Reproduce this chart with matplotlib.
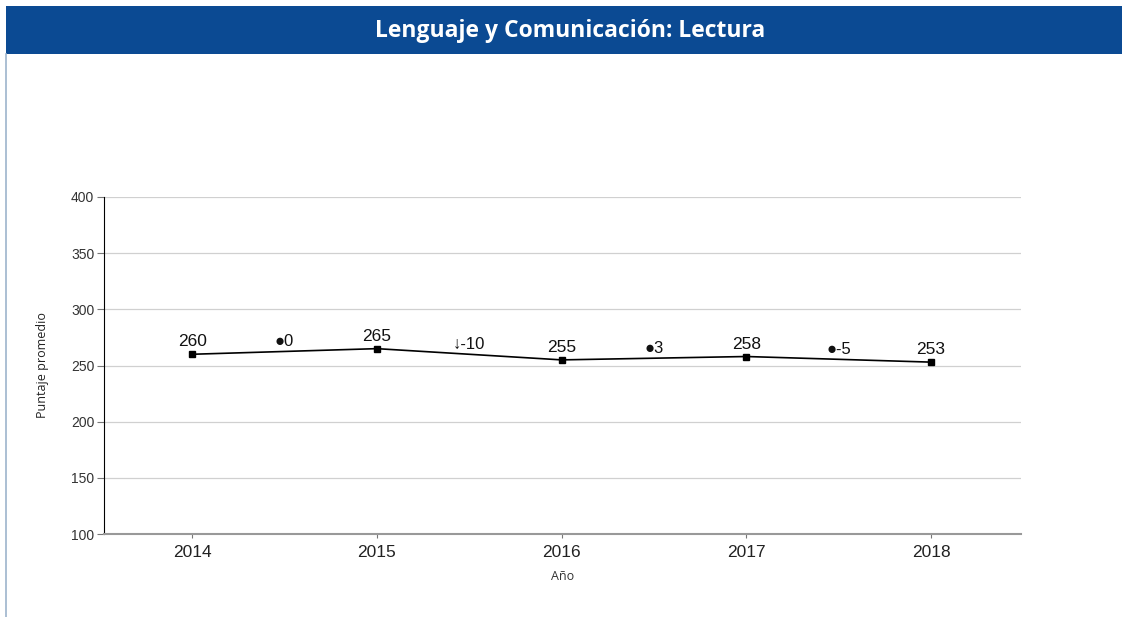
import matplotlib
matplotlib.use("Agg")
import matplotlib.pyplot as plt
from matplotlib.patches import Rectangle
from matplotlib.lines import Line2D

years = ["2014", "2015", "2016", "2017", "2018"]
scores = [260, 265, 255, 258, 253]
diff_labels = ["\u25cf0", "\u2193-10", "\u25cf3", "\u25cf-5"]
yticks = [100, 150, 200, 250, 300, 350, 400]

W, H = 1122, 617
fig = plt.figure(figsize=(W / 100, H / 100), dpi=100)
fig.patch.set_facecolor("white")

# header bar
fig.patches.append(Rectangle((6 / W, 1 - 54 / H), 1 - 6 / W, 48 / H,
                             transform=fig.transFigure, facecolor="#0B4A93",
                             edgecolor="none", zorder=0))
fig.text(570 / W, 1 - 31 / H, "Lenguaje y Comunicación: Lectura", color="white",
         fontsize=16.5, fontweight="bold", family="Open Sans", ha="center", va="center")
# left border line
fig.lines.append(Line2D([5.5 / W, 5.5 / W], [0, 1 - 54 / H], transform=fig.transFigure,
                        color="#9DB4CC", lw=1.2))

ax = fig.add_axes([104 / W, 1 - 534 / H, (1021 - 104) / W, (534 - 197) / H])
x = list(range(len(years)))
ax.plot(x, scores, color="black", lw=1.2, marker="s", markersize=5, zorder=3)
ax.set_xlim(-0.477, len(years) - 1 + 0.487)
ax.set_ylim(100, 400)
ax.set_yticks(yticks)
ax.set_yticklabels([str(v) for v in yticks], family="Liberation Sans", fontsize=10, color="#333333")
ax.set_xticks(x)
ax.set_xticklabels(years, family="Liberation Sans", fontsize=12.5, color="#222222")
ax.grid(axis="y", color="#d0d0d0", lw=0.9)
ax.set_axisbelow(True)
for s in ["top", "right"]:
    ax.spines[s].set_visible(False)
ax.spines["left"].set_color("black")
ax.spines["bottom"].set_color("#999999")
ax.spines["bottom"].set_linewidth(1.5)
ax.tick_params(axis="y", length=5, color="#777777", pad=2)
ax.tick_params(axis="x", length=3, color="#777777", pad=5)

for xi, v in zip(x, scores):
    ax.annotate(str(v), (xi, v), xytext=(0, 3.5), textcoords="offset points",
                ha="center", va="bottom", fontsize=12.5, family="Liberation Sans", color="#111111")
for i, lab in enumerate(diff_labels):
    xm = (x[i] + x[i + 1]) / 2
    ym = (scores[i] + scores[i + 1]) / 2
    ax.annotate(lab, (xm, ym), xytext=(0, 1.5), textcoords="offset points",
                ha="center", va="bottom", fontsize=12,
                family=["Liberation Sans", "DejaVu Sans"], color="#111111")

ax.set_ylabel("Puntaje promedio", family="Open Sans", fontsize=9, color="#222222")
ax.yaxis.set_label_coords(-55 / (1021 - 104), 0.5)
ax.set_xlabel("Año", family="Open Sans", fontsize=9, color="#333333")
ax.xaxis.set_label_coords(0.5, -(570 - 534) / (534 - 197))

fig.savefig("out.png", dpi=100)
